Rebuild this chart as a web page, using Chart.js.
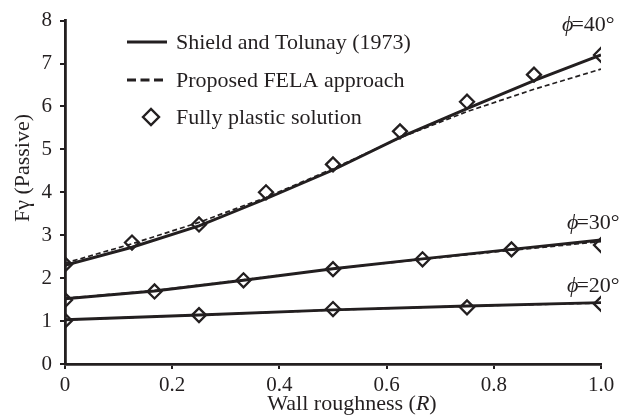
<!DOCTYPE html>
<html>
<head>
<meta charset="utf-8">
<script src="https://cdn.jsdelivr.net/npm/chart.js@4"></script>
<style>
  html, body { margin: 0; padding: 0; background: #fff; }
  #wrap { width: 619px; height: 419px; }
</style>
</head>
<body>
<div id="wrap"><canvas id="fgChart" width="619" height="419"></canvas></div>
<script>
// wall roughness values (x) for each friction angle
const rough40 = [0, 0.125, 0.25, 0.375, 0.5, 0.625, 0.75, 0.875, 1.0];
const rough30 = [0, 0.167, 0.333, 0.5, 0.667, 0.833, 1.0];
const rough20 = [0, 0.25, 0.5, 0.75, 1.0];

// phi = 40
const shield40 = [2.30, 2.72, 3.22, 3.85, 4.52, 5.28, 5.95, 6.60, 7.20];
const fela40 = [2.35, 2.80, 3.30, 3.88, 4.55, 5.27, 5.88, 6.40, 6.87];
const plastic40 = [2.32, 2.83, 3.25, 4.00, 4.65, 5.42, 6.11, 6.74, 7.20];

// phi = 30
const shield30 = [1.52, 1.70, 1.95, 2.22, 2.45, 2.67, 2.89];
const fela30 = [1.53, 1.71, 1.96, 2.22, 2.44, 2.65, 2.85];
const plastic30 = [1.49, 1.69, 1.95, 2.21, 2.44, 2.67, 2.77];

// phi = 20
const shield20 = [1.03, 1.14, 1.26, 1.35, 1.43];
const fela20 = [1.03, 1.14, 1.26, 1.35, 1.42];
const plastic20 = [1.01, 1.14, 1.28, 1.32, 1.40];

const xTicks = [0, 0.2, 0.4, 0.6, 0.8, 1.0];
const legendLabels = ['Shield and Tolunay (1973)', 'Proposed FELA approach', 'Fully plastic solution'];
const phiLabels = ['=40°', '=30°', '=20°'];

const ink = '#231f20';
const serif = '"Liberation Serif", "DejaVu Serif", serif';

function pts(xs, ys) {
  return xs.map((x, i) => ({ x: x, y: ys[i] }));
}

function solidSet(xs, ys) {
  return { data: pts(xs, ys), borderColor: ink, borderWidth: 2.9, pointRadius: 0, tension: 0, order: 3 };
}

function dashSet(xs, ys) {
  return { data: pts(xs, ys), borderColor: ink, borderWidth: 1.7, borderDash: [5, 3], pointRadius: 0, tension: 0, order: 2 };
}

function diamondSet(xs, ys) {
  return {
    data: pts(xs, ys), showLine: false, pointStyle: 'rectRot', pointRadius: 7,
    pointBorderWidth: 2.3, pointBorderColor: ink, pointBackgroundColor: 'rgba(0,0,0,0)', order: 1
  };
}

// legend, axis titles and phi labels drawn straight onto the canvas
const extrasPlugin = {
  id: 'extras',
  afterDraw(chart) {
    const c = chart.ctx;
    c.save();
    c.fillStyle = ink;
    c.strokeStyle = ink;

    // legend
    c.font = '22px ' + serif;
    c.textBaseline = 'middle';
    c.textAlign = 'left';
    c.lineWidth = 2.9;
    c.beginPath(); c.moveTo(127, 42); c.lineTo(167, 42); c.stroke();
    c.lineWidth = 2.8;
    c.setLineDash([9, 4.5]);
    c.beginPath(); c.moveTo(127, 80); c.lineTo(167, 80); c.stroke();
    c.setLineDash([]);
    c.lineWidth = 2.4;
    c.beginPath();
    c.moveTo(143, 117); c.lineTo(151, 109); c.lineTo(159, 117); c.lineTo(151, 125); c.closePath();
    c.stroke();
    c.fillText(legendLabels[0], 176, 43);
    c.fillText(legendLabels[1], 176, 81);
    c.fillText(legendLabels[2], 176, 118);

    // phi labels
    c.textBaseline = 'alphabetic';
    const phiPos = [[562, 31], [567, 229], [567, 292]];
    phiPos.forEach((p, i) => {
      c.font = 'italic 22px ' + serif;
      c.fillText('\u03D5', p[0], p[1]);
      const w = c.measureText('\u03D5').width;
      c.font = '22px ' + serif;
      c.fillText(phiLabels[i], p[0] + w - 2, p[1]);
    });

    // x title with italic R
    c.font = '22px ' + serif;
    const a = 'Wall roughness (';
    const b = ')';
    const wa = c.measureText(a).width;
    const wb = c.measureText(b).width;
    c.font = 'italic 22px ' + serif;
    const wr = c.measureText('R').width;
    let x0 = 352 - (wa + wr + wb) / 2;
    c.font = '22px ' + serif;
    c.fillText(a, x0, 410);
    c.font = 'italic 22px ' + serif;
    c.fillText('R', x0 + wa, 410);
    c.font = '22px ' + serif;
    c.fillText(b, x0 + wa + wr, 410);

    // y title
    c.translate(23, 168);
    c.rotate(-Math.PI / 2);
    c.textAlign = 'center';
    c.textBaseline = 'middle';
    c.fillText('F\u03B3 (Passive)', 0, 0);
    c.restore();
  }
};

const ctx = document.getElementById('fgChart').getContext('2d');
new Chart(ctx, {
  type: 'line',
  data: {
    datasets: [
      solidSet(rough40, shield40), dashSet(rough40, fela40), diamondSet(rough40, plastic40),
      solidSet(rough30, shield30), dashSet(rough30, fela30), diamondSet(rough30, plastic30),
      solidSet(rough20, shield20), dashSet(rough20, fela20), diamondSet(rough20, plastic20)
    ]
  },
  options: {
    responsive: false,
    animation: false,
    layout: { padding: { top: 16, right: 18, left: 0, bottom: 0 } },
    plugins: { legend: { display: false }, tooltip: { enabled: false } },
    scales: {
      x: {
        type: 'linear', min: 0, max: 1,
        afterFit: s => { s.height = 55; },
        afterBuildTicks: s => { s.ticks = xTicks.map(v => ({ value: v })); },
        ticks: {
          color: ink, padding: 4, maxRotation: 0,
          font: { family: serif, size: 21 },
          callback: v => (v === 0 ? '0' : v.toFixed(1))
        },
        grid: { drawOnChartArea: false, drawTicks: true, tickLength: 5, color: ink, lineWidth: 2 },
        border: { display: true, color: ink, width: 2.8 }
      },
      y: {
        min: 0, max: 8,
        afterFit: s => { s.width = 65; },
        ticks: { stepSize: 1, color: ink, padding: 8, font: { family: serif, size: 21 } },
        grid: { drawOnChartArea: false, drawTicks: true, tickLength: 5, color: ink, lineWidth: 2 },
        border: { display: true, color: ink, width: 2.8 }
      }
    }
  },
  plugins: [extrasPlugin]
});
</script>
</body>
</html>
